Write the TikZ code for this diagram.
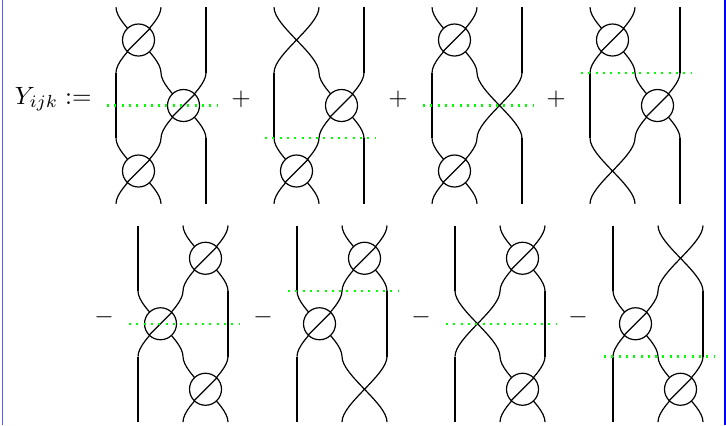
\documentclass[tikz,border=0pt]{standalone}
\colorlet{strandcol}{black}
\colorlet{cutcol}{green}
\colorlet{framecol}{blue}
\tikzstyle{strand}=[semithick,strandcol]
\tikzstyle{cut}=[cutcol,line width=1.2pt,dash pattern=on 1pt off 2.65pt]
\tikzstyle{ocirc}=[circle,draw,semithick,fill=white,minimum size=16pt,inner sep=0pt]
\tikzstyle{sign}=[scale=1.25]

% plain crossing centred at (#1,#2)
\newcommand\brX[2]{%
  \draw[strand] (#1-22.5,#2-32.75) .. controls (#1-22.5,#2-14) and (#1+22.5,#2+14) .. (#1+22.5,#2+32.75);
  \draw[strand] (#1+22.5,#2-32.75) .. controls (#1+22.5,#2-14) and (#1-22.5,#2+14) .. (#1-22.5,#2+32.75);}
% crossing with a circle
\newcommand\brO[3]{%
  \brX{#1}{#2}
  \node[ocirc] (#3) at (#1,#2) {};
  \draw[strand] (#3.south west) -- (#3.north east);}
% straight piece of strand
\newcommand\brI[2]{\draw[strand] (#1,#2-32.75) -- (#1,#2+32.75);}

\begin{document}
\begin{tikzpicture}[x=0.5pt,y=-0.5pt]
  \useasboundingbox (0,0) rectangle (726,425);
  % frame
  \draw[framecol!65,line width=0.5pt] (2.3,0) -- (2.3,425);
  \draw[framecol,line width=1pt] (724.5,0) -- (724.5,425);
  % first row
  \node[sign,anchor=base east,inner sep=0pt] (lhs) at (92,104) {\(Y_{ijk} :=\)};
  \brO{138.5}{40}{c11} \brI{206}{40}
  \brO{183.5}{105.5}{c12} \brI{116}{105.5}
  \brO{138.5}{171}{c13} \brI{206}{171}
  \draw[cut] (107,105.5) -- (218,105.5);
  \node[sign] (p1) at (241,99) {\(+\)};
  \brX{296.5}{40} \brI{364}{40}
  \brO{341.5}{105.5}{c22} \brI{274}{105.5}
  \brO{296.5}{171}{c23} \brI{364}{171}
  \draw[cut] (265,138.25) -- (376,138.25);
  \node[sign] (p2) at (398,99) {\(+\)};
  \brO{454.5}{40}{c31} \brI{522}{40}
  \brX{499.5}{105.5} \brI{432}{105.5}
  \brO{454.5}{171}{c33} \brI{522}{171}
  \draw[cut] (423,105.5) -- (534,105.5);
  \node[sign] (p3) at (556,99) {\(+\)};
  \brO{612.5}{40}{c41} \brI{680}{40}
  \brO{657.5}{105.5}{c42} \brI{590}{105.5}
  \brX{612.5}{171} \brI{680}{171}
  \draw[cut] (581,72.75) -- (692,72.75);
  % second row
  \node[sign] (m1) at (104,317) {\(-\)};
  \brO{205.5}{258.25}{c51} \brI{138}{258.25}
  \brO{160.5}{323.75}{c52} \brI{228}{323.75}
  \brO{205.5}{389.25}{c53} \brI{138}{389.25}
  \draw[cut] (129,323.75) -- (240,323.75);
  \node[sign] (m2) at (263,317) {\(-\)};
  \brO{364.5}{258.25}{c61} \brI{297}{258.25}
  \brO{319.5}{323.75}{c62} \brI{387}{323.75}
  \brX{364.5}{389.25} \brI{297}{389.25}
  \draw[cut] (288,291) -- (399,291);
  \node[sign] (m3) at (421,317) {\(-\)};
  \brO{522.5}{258.25}{c71} \brI{455}{258.25}
  \brX{477.5}{323.75} \brI{545}{323.75}
  \brO{522.5}{389.25}{c73} \brI{455}{389.25}
  \draw[cut] (446,323.75) -- (557,323.75);
  \node[sign] (m4) at (578,317) {\(-\)};
  \brX{680.5}{258.25} \brI{613}{258.25}
  \brO{635.5}{323.75}{c82} \brI{703}{323.75}
  \brO{680.5}{389.25}{c83} \brI{613}{389.25}
  \draw[cut] (604,356.5) -- (715,356.5);
\end{tikzpicture}
\end{document}
